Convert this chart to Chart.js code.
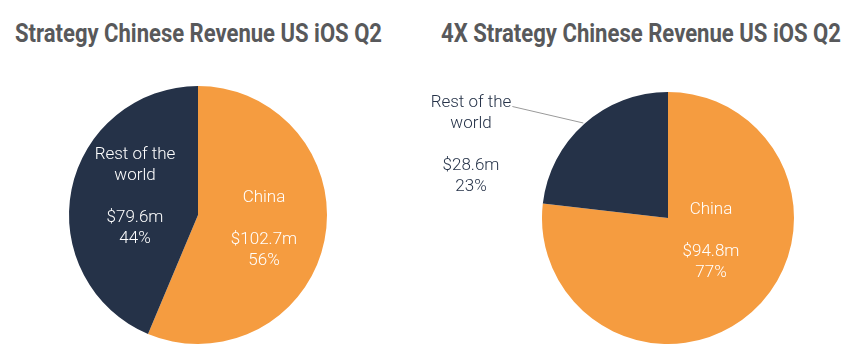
<!DOCTYPE html>
<html>
<head>
<meta charset="utf-8">
<script src="https://cdn.jsdelivr.net/npm/chart.js@4/dist/chart.umd.min.js"></script>
<style>
  html, body { margin: 0; padding: 0; background: #ffffff; }
  body { width: 852px; height: 357px; position: relative; overflow: hidden; }
  .box { position: absolute; top: 0; width: 426px; height: 357px; }
  .title { position: absolute; top: 19px; white-space: nowrap; font-family: "Liberation Sans Narrow", "Roboto", sans-serif;
           font-weight: bold; font-size: 25px; color: #58595b; transform-origin: 0 0; }
</style>
</head>
<body>
<div class="title" id="t1" data-w="367" style="left:15px;">Strategy Chinese Revenue US iOS Q2</div>
<div class="title" id="t2" data-w="400" style="left:441px;">4X Strategy Chinese Revenue US iOS Q2</div>
<div class="box" style="left:0;"><canvas id="c1"></canvas></div>
<div class="box" style="left:426px;"><canvas id="c2"></canvas></div>
<script>
// ---- data ----
const categories = ['China', ['Rest of the', 'world']];
const strategyRevenue = [102.7, 79.6];   // $m, US iOS Q2
const strategy4xRevenue = [94.8, 28.6];  // $m, US iOS Q2
const sliceColors = ['#f59c40', '#253248'];

// fit titles to their width
document.querySelectorAll('.title').forEach(el => {
  const w = el.getBoundingClientRect().width;
  el.style.transform = 'scaleX(' + (parseFloat(el.dataset.w) / w) + ')';
});

const sliceLabels = {
  id: 'sliceLabels',
  afterDatasetsDraw(chart, args, opts) {
    const meta = chart.getDatasetMeta(0);
    const data = chart.data.datasets[0].data;
    const total = data.reduce((a, b) => a + b, 0);
    const ctx = chart.ctx;
    ctx.save();
    ctx.font = '300 17px Roboto, sans-serif';
    ctx.textAlign = 'center';
    ctx.textBaseline = 'middle';
    opts.items.forEach((it, i) => {
      const arc = meta.data[i];
      const p = arc.getProps(['x', 'y', 'outerRadius', 'startAngle', 'endAngle'], true);
      const lx = p.x + it.dx * p.outerRadius;
      const ly = p.y + it.dy * p.outerRadius;
      const name = chart.data.labels[i];
      const lines = [].concat(name, '', '$' + data[i].toFixed(1) + 'm', Math.round(data[i] / total * 100) + '%');
      ctx.fillStyle = it.color;
      lines.forEach((ln, k) => ctx.fillText(ln, lx, ly + k * 21));
      if (it.leader) {
        const first = lines[0];
        const tw = ctx.measureText(first).width;
        const mid = (p.startAngle + p.endAngle) / 2;
        ctx.strokeStyle = '#9a9a9a';
        ctx.lineWidth = 1;
        ctx.beginPath();
        ctx.moveTo(lx + tw / 2 + 1, ly + 4);
        ctx.lineTo(p.x + Math.cos(mid) * p.outerRadius * 1.01, p.y + Math.sin(mid) * p.outerRadius * 1.01);
        ctx.stroke();
      }
    });
    ctx.restore();
  }
};

function makePie(id, values, padding, items) {
  return new Chart(document.getElementById(id), {
    type: 'pie',
    data: {
      labels: categories,
      datasets: [{ data: values, backgroundColor: sliceColors, borderWidth: 0, hoverOffset: 0, offset: 0 }]
    },
    options: {
      responsive: true,
      maintainAspectRatio: false,
      animation: false,
      events: [],
      layout: { padding: padding },
      plugins: {
        legend: { display: false },
        tooltip: { enabled: false },
        title: { display: false },
        sliceLabels: { items: items }
      }
    },
    plugins: [sliceLabels]
  });
}

makePie('c1', strategyRevenue, { left: 69, right: 99, top: 86, bottom: 13 }, [
  { dx: 66 / 129, dy: -17 / 129, color: '#ffffff' },
  { dx: -63 / 129, dy: -60 / 129, color: '#ffffff' }
]);
makePie('c2', strategy4xRevenue, { left: 116, right: 58, top: 92, bottom: 13 }, [
  { dx: 43 / 126, dy: -8 / 126, color: '#ffffff' },
  { dx: -197 / 126, dy: -115.5 / 126, color: '#253248', leader: true }
]);
</script>
</body>
</html>
